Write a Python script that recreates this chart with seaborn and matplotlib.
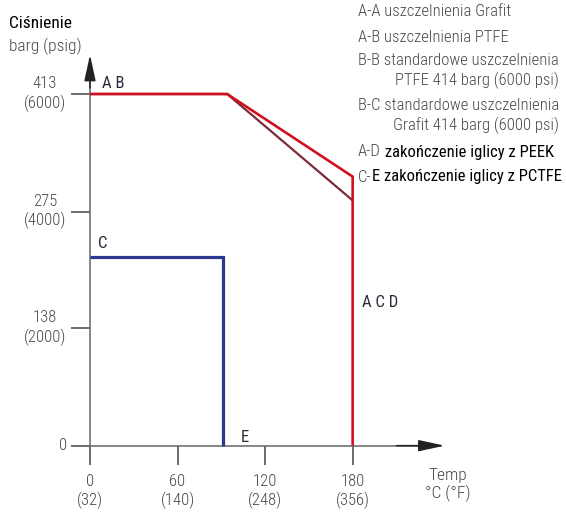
import matplotlib
matplotlib.use("Agg")
import matplotlib.pyplot as plt
from matplotlib import font_manager
import seaborn as sns
import pandas as pd

# ---------------- data ----------------
red_temp = [0, 94, 180, 180]
red_press = [413, 413, 316, 0]
brown_temp = [0, 94, 180]
brown_press = [413, 413, 288]
blue_temp = [0, 91, 91]
blue_press = [222, 222, 0]

x_ticks = [0, 60, 120, 180]
x_tick_labels = ["0\n(32)", "60\n(140)", "120\n(248)", "180\n(356)"]
y_ticks = [0, 138, 275, 413]
y_tick_labels = ["0", "138\n(2000)", "275\n(4000)", "413\n(6000)"]

legend_lines = [
    ("A-A uszczelnienia Grafit", None),
    ("A-B uszczelnienia PTFE", None),
    ("B-B standardowe uszczelnienia\nPTFE 414 barg (6000 psi)", None),
    ("B-C standardowe uszczelnienia\nGrafit 414 barg (6000 psi)", None),
    ("A-D", " zakończenie iglicy z PEEK"),
    ("C-", "E zakończenie iglicy z PCTFE"),
]

RED = "#d0101e"
BROWN = "#7b2b3a"
BLUE = "#2b3990"
GRAY = "#484848"
AXIS = "#666666"
LABEL = "#262c3a"

df = pd.concat([
    pd.DataFrame({"temp": brown_temp, "press": brown_press, "line": "B-C"}),
    pd.DataFrame({"temp": red_temp, "press": red_press, "line": "A-B"}),
    pd.DataFrame({"temp": blue_temp, "press": blue_press, "line": "C-E"}),
], ignore_index=True)

sns.set_theme(style="white")
installed = {f.name for f in font_manager.fontManager.ttflist}
narrow = None
for cand in ["Roboto Condensed", "Liberation Sans Narrow", "Open Sans Condensed", "DejaVu Sans Condensed"]:
    if cand in installed:
        narrow = cand
        break
if narrow is not None:
    plt.rcParams["font.family"] = [narrow, "DejaVu Sans"]
    FS = 12
    LFS = 12
else:
    plt.rcParams["font.family"] = ["Liberation Sans", "DejaVu Sans"]
    FS = 10.5
    LFS = 10.2
LIGHT = "light"

fig = plt.figure(figsize=(5.66, 5.12), dpi=100)
ax = fig.add_axes([0, 0, 1, 1])
ax.set_facecolor("white")

widths = {"B-C": 1.6, "A-B": 1.9, "C-E": 2.3}
colors = {"B-C": BROWN, "A-B": RED, "C-E": BLUE}
for name in ["B-C", "A-B", "C-E"]:
    sub = df[df["line"] == name]
    sns.lineplot(data=sub, x="temp", y="press", estimator=None, sort=False,
                 color=colors[name], linewidth=widths[name], ax=ax, legend=False)
for ln in ax.lines:
    ln.set_solid_joinstyle("miter")
    ln.set_solid_capstyle("butt")
    ln.set_zorder(3)

ax.set_xlim(-61.67, 326.2)
ax.set_ylim(-77.9, 523.4)
ax.set_xlabel("")
ax.set_ylabel("")

for s in ["top", "right"]:
    ax.spines[s].set_visible(False)
for s in ["left", "bottom"]:
    ax.spines[s].set_position(("data", 0))
    ax.spines[s].set_color(AXIS)
    ax.spines[s].set_linewidth(1.1)
ax.spines["left"].set_bounds(0, 445)
ax.spines["bottom"].set_bounds(0, 228)

ax.set_xticks(x_ticks)
ax.set_yticks(y_ticks)
ax.set_xticklabels([])
ax.set_yticklabels([])
ax.tick_params(axis="both", direction="out", length=13.7, width=1.1,
               color="#444444", bottom=True, left=True)

arrow = dict(arrowstyle="-|>,head_length=1.6,head_width=0.35", color="#222222",
             lw=1.1, shrinkA=0, shrinkB=0, mutation_scale=10)
ax.annotate("", xy=(0, 459), xytext=(0, 420), arrowprops=arrow)
ax.annotate("", xy=(243, 0), xytext=(210, 0), arrowprops=arrow)

for t, lab in zip(x_ticks, x_tick_labels):
    ax.text(t, -33, lab, ha="center", va="top", multialignment="center",
            fontsize=FS, color=GRAY, linespacing=1.25, fontweight=LIGHT)
for p, lab in zip(y_ticks, y_tick_labels):
    if p == 0:
        ax.text(-15.5, p, lab, ha="right", va="center", fontsize=FS, color=GRAY,
                fontweight=LIGHT)
    else:
        ax.text(-30.8, p, lab, ha="center", va="center", multialignment="center",
                fontsize=FS, color=GRAY, linespacing=1.25, fontweight=LIGHT)

# point labels
ax.text(8.2, 425, "A B", ha="left", va="center", fontsize=FS, color=LABEL)
ax.text(5.5, 238, "C", ha="left", va="center", fontsize=FS, color=LABEL)
ax.text(103.5, 10, "E", ha="left", va="center", fontsize=FS, color=LABEL)
ax.text(186.4, 168, "A C D", ha="left", va="center", fontsize=FS, color=LABEL)

# axis titles
fig.text(9 / 566, 1 - 23 / 512, "Ciśnienie", ha="left", va="center", fontsize=FS + 0.5, color="black")
fig.text(9 / 566, 1 - 46 / 512, "barg (psig)", ha="left", va="center", fontsize=FS + 0.5, color=GRAY,
         fontweight=LIGHT)
fig.text(448 / 566, 1 - 485 / 512, "Temp\n°C (°F)", ha="center", va="center",
         multialignment="center", fontsize=FS + 0.5, color=GRAY, linespacing=1.15,
         fontweight=LIGHT)

# legend text
ys = [12, 37, 71, 116, 152, 177]
for (a, b), y in zip(legend_lines, ys):
    t1 = fig.text(358 / 566, 1 - y / 512, a, ha="left", va="center",
                  multialignment="right", fontsize=LFS, color=GRAY, linespacing=1.35,
                  fontweight=LIGHT)
    if b is not None:
        ax.annotate(b, xy=(1, 0), xycoords=t1, ha="left", va="bottom",
                    fontsize=LFS, color="black")

fig.savefig("out.png", dpi=100, facecolor="white")
